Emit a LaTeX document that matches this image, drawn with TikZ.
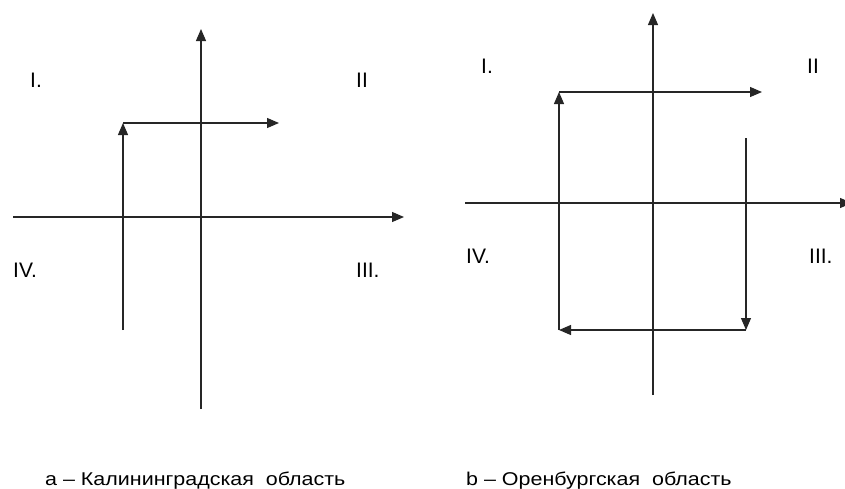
\documentclass[tikz,border=0pt]{standalone}
\usepackage{fontspec}
\setmainfont{Liberation Sans}
\newfontfamily\capfont[FakeStretch=1.16]{Liberation Sans}
\usetikzlibrary{arrows.meta}
\begin{document}
\begin{tikzpicture}[x=1pt,y=-1pt,>={Triangle[length=12pt,width=10pt]},
  axis/.style={line width=1.2pt,draw=black!85},
  path/.style={line width=1.2pt,draw=black!85},
  quad/.style={anchor=west,font=\fontsize{21}{24}\selectfont,inner sep=0pt},
  caption/.style={anchor=base west,font=\capfont\fontsize{18.5}{22}\selectfont,inner sep=0pt}]
\useasboundingbox (0,0) rectangle (845,488);
% a -- left diagram
\coordinate (aT) at (201,29);
\coordinate (aB) at (201,409);
\coordinate (aL) at (13,217);
\coordinate (aR) at (404,217);
\draw[axis,->] (aB) -- (aT);
\draw[axis,->] (aL) -- (aR);
\coordinate (a1) at (123,330);
\coordinate (a2) at (123,123);
\coordinate (a3) at (279,123);
\draw[path,->] (a1) -- (a2);
\draw[path,->] (a2) -- (a3);
\node[quad] (aI) at (30,80) {I.};
\node[quad] (aII) at (356,80) {II};
\node[quad] (aIV) at (13,270) {IV.};
\node[quad] (aIII) at (356,270) {III.};
% b -- right diagram
\coordinate (bT) at (653,13);
\coordinate (bB) at (653,395);
\coordinate (bL) at (465,203);
\coordinate (bR) at (852,203);
\draw[axis,->] (bB) -- (bT);
\draw[axis,->] (bL) -- (bR);
\coordinate (b1) at (559,330);
\coordinate (b2) at (559,92);
\coordinate (b3) at (762,92);
\coordinate (b4) at (746,138);
\coordinate (b5) at (746,330);
\draw[path,->] (b1) -- (b2);
\draw[path,->] (b2) -- (b3);
\draw[path,->] (b4) -- (b5);
\draw[path,->] (b5) -- (b1);
\node[quad] (bI) at (481,66) {I.};
\node[quad] (bII) at (807,66) {II};
\node[quad] (bIV) at (466,256) {IV.};
\node[quad] (bIII) at (809,256) {III.};
% captions
\node[caption] (capA) at (45,485) {a – Калининградская\ \ область};
\node[caption] (capB) at (466,485) {b – Оренбургская\ \ область};
\end{tikzpicture}
\end{document}
